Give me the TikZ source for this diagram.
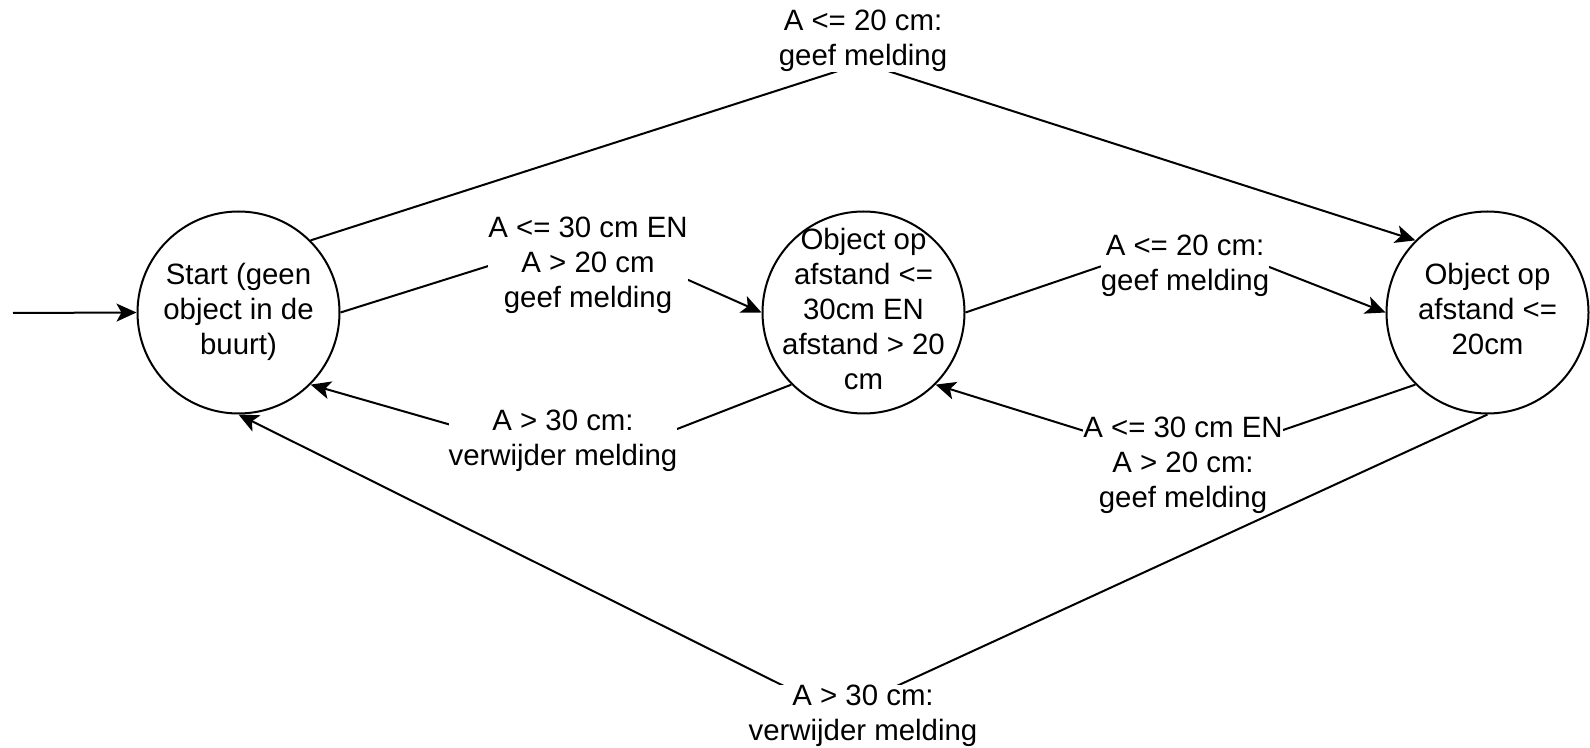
\documentclass[tikz,border=0pt]{standalone}
\usepackage{fontspec}
\setmainfont{Liberation Sans}
\usetikzlibrary{arrows.meta}
\newcommand{\ls}{\rule[-0.246em]{0pt}{0.94em}}
\begin{document}
\begin{tikzpicture}[x=0.5pt,y=-0.5pt,
  every node/.style={font=\fontsize{14.7pt}{17.5pt}\selectfont},
  stcircle/.style={circle,draw,line width=1pt,minimum size=101pt,inner sep=0pt},
  txt/.style={align=center,inner sep=0pt},
  lbl/.style={align=center,inner sep=0pt,fill=white},
  conn/.style={line width=1pt,-{Stealth[length=10pt,width=9pt,inset=2.5pt]}}]
\useasboundingbox (0,0) rectangle (1590,748);

% states
\node[stcircle] (s) at (238.5,312.5) {};
\node[stcircle] (m) at (863.5,312.5) {};
\node[stcircle] (r) at (1487.5,312.5) {};
\node[txt] (stxt) at (s) {\ls Start (geen\\\ls object in de\\\ls buurt)};
\node[txt] (mtxt) at (m) {\ls Object op\\\ls afstand <=\\\ls 30cm EN\\\ls afstand > 20\\\ls cm};
\node[txt] (rtxt) at (r) {\ls Object op\\\ls afstand <=\\\ls 20cm};

% waypoints
\coordinate (in) at (13,313);
\coordinate (w1) at (863,63);
\coordinate (w2) at (587,235);
\coordinate (w3) at (587,464);
\coordinate (w4) at (1190,236);
\coordinate (w5) at (1187,463);
\coordinate (w6) at (838,713);

% connectors
\draw[conn] (in) -- (s.180);
\draw[conn] (s.45) -- (w1) -- (r.135);
\draw[conn] (s.0) -- (w2) -- (m.180);
\draw[conn] (m.225) -- (w3) -- (s.-45);
\draw[conn] (m.0) -- (w4) -- (r.180);
\draw[conn] (r.225) -- (w5) -- (m.-45);

% labels
\node[lbl] (l1) at (863,41) {\ls A <= 20 cm:\\\ls geef melding};
\node[lbl] (l2) at (588,265.5) {\ls A <= 30 cm EN\\\ls A > 20 cm\\\ls geef melding};
\node[lbl] (l3) at (563,441) {\ls A > 30 cm:\\\ls verwijder melding};
\node[lbl] (l4) at (1185,266) {\ls A <= 20 cm:\\\ls geef melding};
\node[lbl] (l5) at (1183,465.5) {\ls A <= 30 cm EN\\\ls A > 20 cm:\\\ls geef melding};

% bottom connector drawn over label l5, as in the reference
\draw[conn] (r.270) -- (w6) -- (s.270);
\node[lbl] (l6) at (863,716) {\ls A > 30 cm:\\\ls verwijder melding};
\end{tikzpicture}
\end{document}
